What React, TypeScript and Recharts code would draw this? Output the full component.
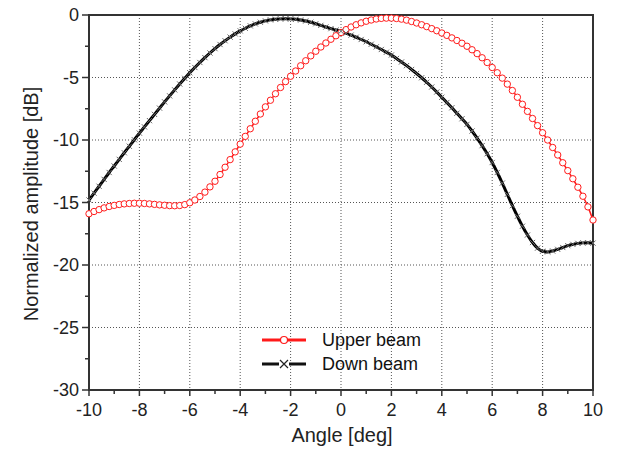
import React from "react";
import { CartesianGrid, Legend, Line, LineChart, ReferenceArea, XAxis, YAxis } from "recharts";

const angles = [
  -10, -9.8, -9.6, -9.4, -9.2, -9, -8.8, -8.6, -8.4, -8.2,
  -8, -7.8, -7.6, -7.4, -7.2, -7, -6.8, -6.6, -6.4, -6.2,
  -6, -5.8, -5.6, -5.4, -5.2, -5, -4.8, -4.6, -4.4, -4.2,
  -4, -3.8, -3.6, -3.4, -3.2, -3, -2.8, -2.6, -2.4, -2.2,
  -2, -1.8, -1.6, -1.4, -1.2, -1, -0.8, -0.6, -0.4, -0.2,
  0, 0.2, 0.4, 0.6, 0.8, 1, 1.2, 1.4, 1.6, 1.8,
  2, 2.2, 2.4, 2.6, 2.8, 3, 3.2, 3.4, 3.6, 3.8,
  4, 4.2, 4.4, 4.6, 4.8, 5, 5.2, 5.4, 5.6, 5.8,
  6, 6.2, 6.4, 6.6, 6.8, 7, 7.2, 7.4, 7.6, 7.8,
  8, 8.2, 8.4, 8.6, 8.8, 9, 9.2, 9.4, 9.6, 9.8,
  10,
];

const upperBeam = [
  -15.9, -15.72, -15.57, -15.43, -15.32, -15.23, -15.16, -15.11, -15.08, -15.06,
  -15.06, -15.08, -15.11, -15.15, -15.19, -15.22, -15.25, -15.26, -15.24, -15.17,
  -15.02, -14.8, -14.52, -14.17, -13.75, -13.3, -12.76, -12.18, -11.57, -10.95,
  -10.33, -9.71, -9.1, -8.5, -7.92, -7.35, -6.82, -6.3, -5.8, -5.33,
  -4.9, -4.48, -4.06, -3.66, -3.27, -2.9, -2.56, -2.24, -1.94, -1.66,
  -1.4, -1.17, -0.96, -0.78, -0.63, -0.5, -0.4, -0.32, -0.27, -0.25,
  -0.25, -0.28, -0.33, -0.41, -0.52, -0.64, -0.78, -0.93, -1.09, -1.26,
  -1.44, -1.63, -1.83, -2.04, -2.26, -2.5, -2.78, -3.09, -3.42, -3.8,
  -4.2, -4.62, -5.05, -5.53, -6.04, -6.58, -7.14, -7.71, -8.28, -8.85,
  -9.42, -10.0, -10.6, -11.2, -11.82, -12.45, -13.1, -13.78, -14.5, -15.35,
  -16.4,
];

const downBeam = [
  -14.8, -14.25, -13.7, -13.15, -12.6, -12.08, -11.55, -11.02, -10.5, -9.98,
  -9.45, -8.95, -8.45, -7.95, -7.45, -6.95, -6.47, -5.99, -5.52, -5.07,
  -4.62, -4.2, -3.8, -3.41, -3.04, -2.69, -2.36, -2.06, -1.77, -1.51,
  -1.27, -1.06, -0.87, -0.71, -0.58, -0.47, -0.39, -0.34, -0.31, -0.3,
  -0.31, -0.34, -0.4, -0.48, -0.58, -0.7, -0.83, -0.96, -1.09, -1.2,
  -1.3, -1.45, -1.61, -1.78, -1.96, -2.14, -2.34, -2.55, -2.76, -2.98,
  -3.2, -3.48, -3.76, -4.05, -4.36, -4.68, -5.02, -5.38, -5.76, -6.16,
  -6.58, -7.0, -7.42, -7.86, -8.3, -8.75, -9.28, -9.85, -10.45, -11.1,
  -11.8, -12.6, -13.45, -14.35, -15.25, -16.1, -16.9, -17.6, -18.2, -18.65,
  -18.9, -18.95, -18.88, -18.75, -18.6, -18.45, -18.35, -18.27, -18.23, -18.22,
  -18.25,
];

const xTicks = [-10, -9, -8, -7, -6, -5, -4, -3, -2, -1, 0, 1, 2, 3, 4, 5, 6, 7, 8, 9, 10];
const xGrid = [-8, -6, -4, -2, 0, 2, 4, 6, 8];
const yTicks = [-30, -27.5, -25, -22.5, -20, -17.5, -15, -12.5, -10, -7.5, -5, -2.5, 0];
const yGrid = [-25, -20, -15, -10, -5];

const seriesNames = ["Upper beam", "Down beam"];
const xTitle = "Angle [deg]";
const yTitle = "Normalized amplitude [dB]";

const data = angles.map((a, i) => ({ angle: a, upper: upperBeam[i], down: downBeam[i] }));

const FONT = '"Liberation Sans", Arial, Helvetica, sans-serif';
const AXIS = "#333";

function XTick({ x, y, payload }: any) {
  const major = payload.value % 2 === 0;
  return (
    <g>
      <line x1={x} x2={x} y1={y} y2={y + (major ? 6 : 4)} stroke={AXIS} strokeWidth={1.5} />
      {major && (
        <text x={x} y={y + 26} textAnchor="middle" fontSize={18} fill="#222" fontFamily={FONT}>
          {payload.value}
        </text>
      )}
    </g>
  );
}

function YTick({ x, y, payload }: any) {
  const major = payload.value % 5 === 0;
  return (
    <g>
      <line x1={x - (major ? 7 : 4)} x2={x} y1={y} y2={y} stroke={AXIS} strokeWidth={1.5} />
      {major && (
        <text x={x - 10} y={y} dy="0.36em" textAnchor="end" fontSize={18} fill="#222" fontFamily={FONT}>
          {payload.value}
        </text>
      )}
    </g>
  );
}

function XTitle() {
  return (
    <text x={334} y={434} textAnchor="middle" fontSize={20} fill="#222" fontFamily={FONT}>
      {xTitle}
    </text>
  );
}

function YTitle() {
  const cx = 29.5;
  const cy = 196;
  return (
    <text
      x={cx}
      y={cy}
      transform={`rotate(-90, ${cx}, ${cy})`}
      textAnchor="middle"
      fontSize={20}
      fill="#222"
      fontFamily={FONT}
    >
      {yTitle}
    </text>
  );
}

function CircleDot({ cx, cy, index }: any) {
  return <circle key={`c${index}`} cx={cx} cy={cy} r={3.2} fill="#fff" stroke="#ff1a1a" strokeWidth={1} />;
}

function CrossDot({ cx, cy, index }: any) {
  const s = 2.6;
  return (
    <path
      key={`x${index}`}
      d={`M${cx - s},${cy - s}L${cx + s},${cy + s}M${cx - s},${cy + s}L${cx + s},${cy - s}`}
      stroke="#666"
      strokeWidth={1}
      fill="none"
    />
  );
}

function LegendBox() {
  const row = (name: string, color: string, marker: React.ReactNode) => (
    <div key={name} style={{ display: "flex", alignItems: "center", height: 24 }}>
      <svg width={46} height={14} style={{ marginRight: 14 }}>
        <line x1={0} x2={44} y1={7} y2={7} stroke={color} strokeWidth={3} />
        {marker}
      </svg>
      <span style={{ fontSize: 18, color: "#111", fontFamily: FONT }}>{name}</span>
    </div>
  );
  return (
    <div>
      {row(
        seriesNames[0],
        "#ff1a1a",
        <circle cx={22} cy={7} r={3.5} fill="#fff" stroke="#ff1a1a" strokeWidth={1.2} />
      )}
      {row(
        seriesNames[1],
        "#111",
        <g>
          <rect x={17} y={2} width={10} height={10} fill="#fff" />
          <path d="M18,3L26,11M18,11L26,3" stroke="#222" strokeWidth={1.2} />
        </g>
      )}
    </div>
  );
}

export default function App() {
  return (
    <div style={{ width: 602, height: 446, fontFamily: FONT }}>
      <LineChart width={602} height={446} data={data} margin={{ top: 7, right: 17, bottom: 0, left: 0 }}>
        <CartesianGrid
          stroke="#555"
          strokeDasharray="1 2"
          verticalValues={xGrid}
          horizontalValues={yGrid}
        />
        <XAxis
          dataKey="angle"
          type="number"
          domain={[-10, 10]}
          ticks={xTicks}
          interval={0}
          height={64}
          tickSize={0}
          tickMargin={0}
          tickLine={false}
          axisLine={{ stroke: AXIS, strokeWidth: 2 }}
          tick={<XTick />}
          label={<XTitle />}
        />
        <YAxis
          type="number"
          domain={[-30, 0]}
          ticks={yTicks}
          interval={0}
          width={81}
          tickSize={0}
          tickMargin={0}
          tickLine={false}
          axisLine={{ stroke: AXIS, strokeWidth: 2 }}
          tick={<YTick />}
          label={<YTitle />}
        />
        <ReferenceArea x1={-10} x2={10} y1={-30} y2={0} fill="none" stroke={AXIS} strokeWidth={2} />
        <Line
          type="monotone"
          dataKey="upper"
          name={seriesNames[0]}
          stroke="#ff1a1a"
          strokeWidth={1.5}
          dot={CircleDot}
          isAnimationActive={false}
        />
        <Line
          type="monotone"
          dataKey="down"
          name={seriesNames[1]}
          stroke="#000"
          strokeWidth={3}
          dot={CrossDot}
          isAnimationActive={false}
        />
        <Legend
          layout="vertical"
          align="center"
          verticalAlign="middle"
          content={<LegendBox />}
          wrapperStyle={{ left: 254, top: 320, width: 200, height: 50 }}
        />
      </LineChart>
    </div>
  );
}
